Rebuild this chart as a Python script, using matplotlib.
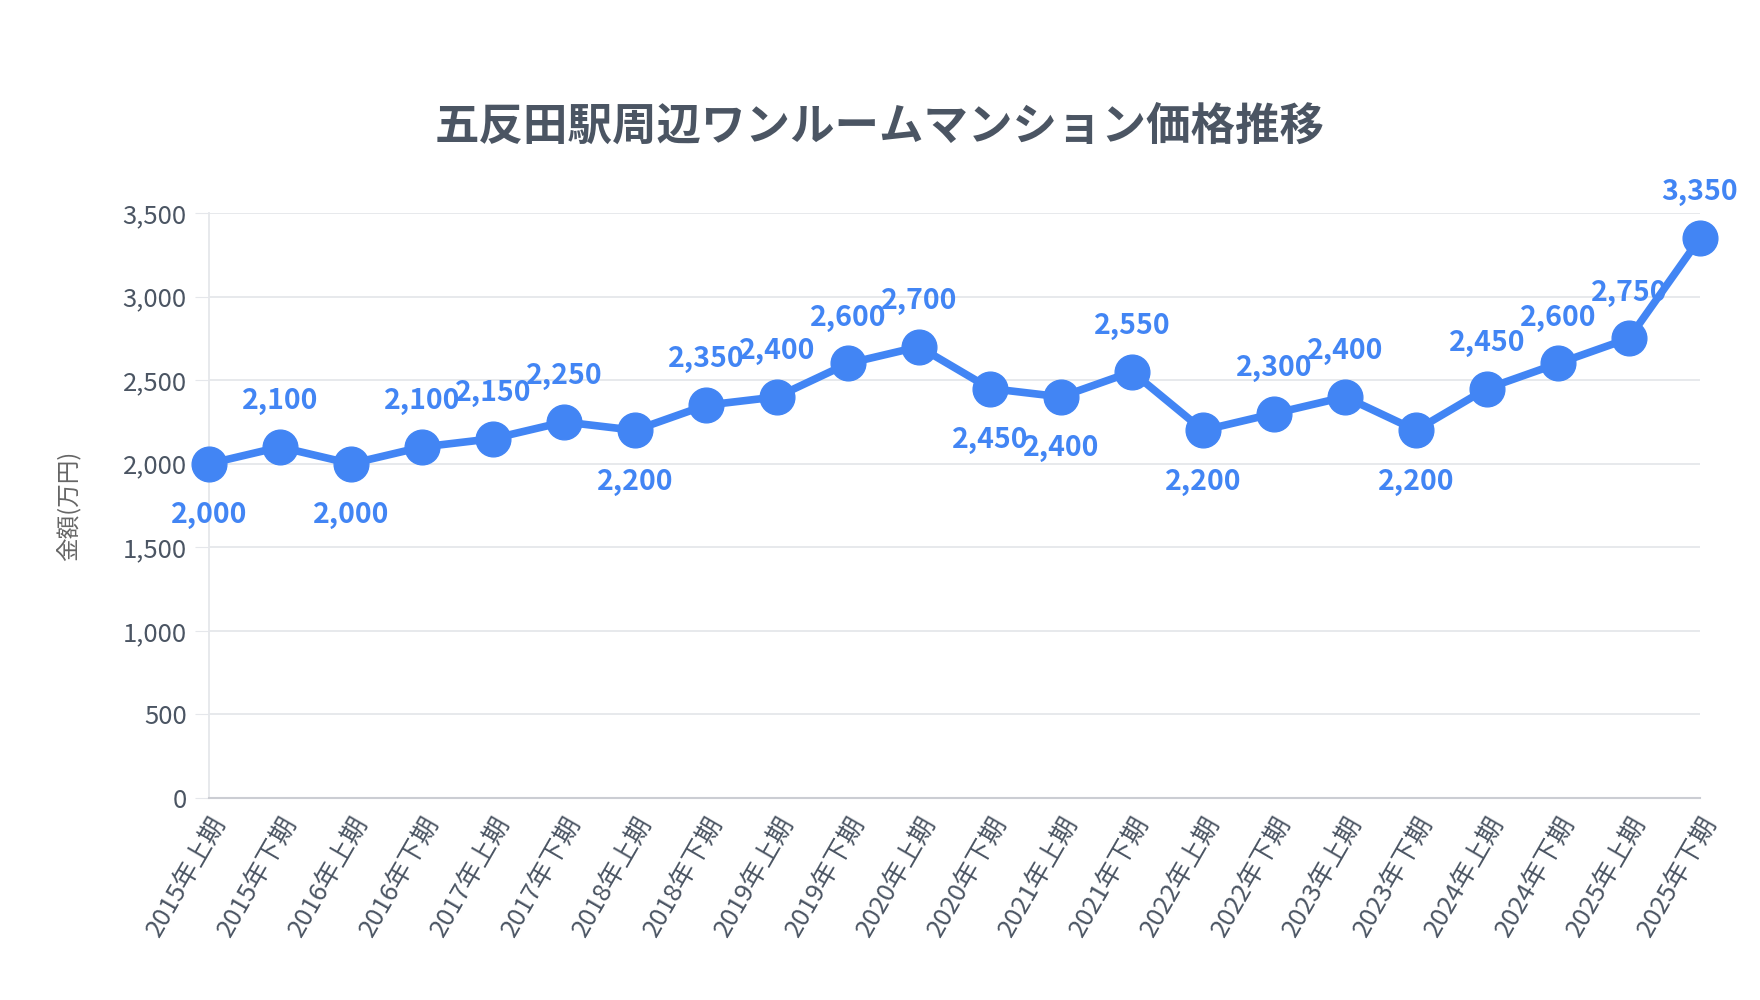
import matplotlib
matplotlib.use("Agg")
import matplotlib.pyplot as plt
from matplotlib.ticker import FuncFormatter

plt.rcParams['font.family'] = ['Noto Sans CJK JP', 'DejaVu Sans']

title = "五反田駅周辺ワンルームマンション価格推移"
ylabel = "金額(万円)"
periods = ["2015年上期", "2015年下期", "2016年上期", "2016年下期", "2017年上期", "2017年下期",
           "2018年上期", "2018年下期", "2019年上期", "2019年下期", "2020年上期", "2020年下期",
           "2021年上期", "2021年下期", "2022年上期", "2022年下期", "2023年上期", "2023年下期",
           "2024年上期", "2024年下期", "2025年上期", "2025年下期"]
prices = [2000, 2100, 2000, 2100, 2150, 2250, 2200, 2350, 2400, 2600, 2700, 2450,
          2400, 2550, 2200, 2300, 2400, 2200, 2450, 2600, 2750, 3350]
label_pos = ["below", "above", "below", "above", "above", "above", "below", "above", "above",
             "above", "above", "below", "below", "above", "below", "above", "above", "below",
             "above", "above", "above", "above"]
yticks = [0, 500, 1000, 1500, 2000, 2500, 3000, 3500]

line_color = "#4285F4"
text_color = "#4B5563"
grid_color = "#E5E7EB"

fig = plt.figure(figsize=(17.6, 10), dpi=100)
ax = fig.add_axes([209/1760, 1 - 798/1000, (1700-209)/1760, (798-213)/1000])

x = list(range(len(periods)))
ax.plot(x, prices, color=line_color, linewidth=5.5, marker='o', markersize=25,
        markerfacecolor=line_color, markeredgecolor=line_color, clip_on=False, zorder=3)

for xi, v, pos in zip(x, prices, label_pos):
    off = 33 if pos == "above" else -37
    ax.annotate(f"{v:,}", (xi, v), xytext=(0, off), textcoords='offset points',
                ha='center', va='center', fontsize=20.5, fontweight='bold',
                color=line_color, zorder=4, annotation_clip=False)

ax.set_xlim(0, len(periods) - 1)
ax.set_ylim(0, 3500)
ax.set_yticks(yticks)
ax.yaxis.set_major_formatter(FuncFormatter(lambda v, p: f"{int(v):,}"))
ax.set_xticks(x)
ax.set_xticklabels(periods, rotation=60, ha='right', va='top', rotation_mode='anchor')

ax.tick_params(axis='y', labelsize=18.5, colors=text_color, length=10, color=grid_color, pad=6)
ax.tick_params(axis='x', labelsize=18.5, colors=text_color, length=0, pad=10)
for lbl in ax.get_yticklabels() + ax.get_xticklabels():
    lbl.set_color(text_color)

ax.grid(axis='y', color=grid_color, linewidth=1.3)
ax.grid(axis='x', visible=False)
ax.set_axisbelow(True)
for s in ['top', 'right']:
    ax.spines[s].set_visible(False)
ax.spines['left'].set_color(grid_color)
ax.spines['left'].set_linewidth(1.3)
ax.spines['bottom'].set_color("#CBCDD3")
ax.spines['bottom'].set_linewidth(1.5)

ax.set_ylabel(ylabel, fontsize=17, color="#666666", labelpad=30)
fig.text(0.5, 1 - 127/1000, title, ha='center', va='center', fontsize=32,
         fontweight='bold', color=text_color)

fig.savefig("out.png", dpi=100, facecolor='white')
